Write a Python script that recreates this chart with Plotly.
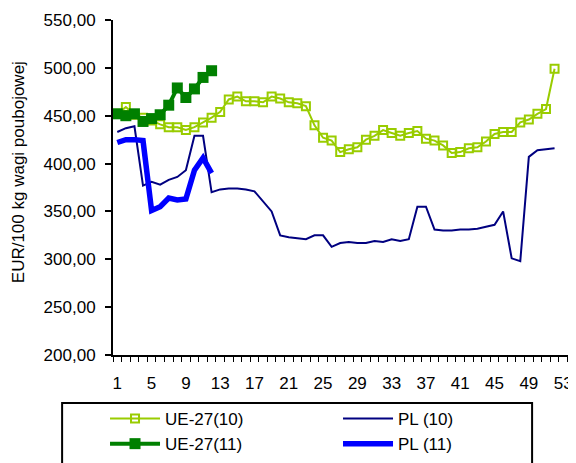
import plotly.graph_objects as go

weeks_10 = list(range(1, 53))
ue27_10 = [452, 459, 451, 448, 445, 441, 438, 438, 435, 438, 443, 448, 454, 467, 470, 465, 465, 464, 470, 468,
           464, 463, 460, 440, 427, 424, 412, 415, 417, 425, 429, 435, 432, 429, 432, 434, 426, 424, 419, 411,
           412, 416, 417, 423, 431, 433, 433, 443, 446, 452, 457, 499]
pl_10 = [433, 437, 439, 377, 381, 378, 383, 386, 393, 429, 429, 370, 373, 374, 374, 373, 371, 361, 350, 325,
         323, 322, 321, 325, 325, 313, 317, 318, 317, 317, 319, 318, 321, 319, 321, 355, 355, 331, 330, 330,
         331, 331, 332, 334, 336, 350, 301, 298, 407, 414, 415, 416]

weeks_11 = list(range(1, 13))
ue27_11 = [452, 450, 452, 444, 447, 451, 461, 479, 469, 478, 490, 497]
pl_11 = [422, 425, 425, 424, 351, 355, 364, 362, 363, 393, 406, 390]

x_labels = list(range(1, 54, 4))

FONT = "Liberation Sans, Arial, sans-serif"

# page body has an 8px margin; plot area targeted at window px x 113..577, y 20..355
PL, PT, PR, PB = 113, 20, 577, 355


def px_x(px):
    return (px - PL) / (PR - PL)


def px_y(py):
    return (PB - py) / (PB - PT)


fig = go.Figure()
fig.add_trace(go.Scatter(x=weeks_10, y=ue27_10, name="UE-27(10)", mode="lines+markers",
                         line=dict(color="#99CC00", width=2),
                         marker=dict(symbol="square-open", size=8, color="#99CC00", line=dict(width=2))))
fig.add_trace(go.Scatter(x=weeks_10, y=pl_10, name="PL (10)", mode="lines",
                         line=dict(color="#000080", width=2)))
fig.add_trace(go.Scatter(x=weeks_11, y=ue27_11, name="UE-27(11)", mode="lines+markers",
                         line=dict(color="#008000", width=4),
                         marker=dict(symbol="square", size=11, color="#008000")))
fig.add_trace(go.Scatter(x=weeks_11, y=pl_11, name="PL (11)", mode="lines",
                         line=dict(color="#0000FF", width=5.5)))

fig.update_layout(
    width=568, height=455,
    margin=dict(l=PL - 8, r=0, t=PT - 8, b=455 - (PB - 8), autoexpand=False),
    paper_bgcolor="white", plot_bgcolor="white",
    separators=", ",
    font=dict(family=FONT, size=17, color="black"),
    showlegend=True,
    legend=dict(orientation="h", x=px_x(105), xanchor="left",
                y=px_y(401), yanchor="top",
                entrywidth=168, entrywidthmode="pixels", itemwidth=50,
                font=dict(family=FONT, size=17, color="black"),
                bgcolor="rgba(0,0,0,0)", borderwidth=0),
    xaxis=dict(range=[0.5, 54.5], tickmode="array", tickvals=x_labels,
               ticktext=[str(v) for v in x_labels], ticks="", showgrid=False,
               showline=True, linecolor="black", linewidth=2, zeroline=False,
               ticklabelstandoff=12, automargin=False,
               tickfont=dict(family=FONT, size=17, color="black"),
               minor=dict(tickmode="linear", tick0=0.5, dtick=1, ticks="outside",
                          ticklen=5, tickcolor="black", tickwidth=1, showgrid=False)),
    yaxis=dict(range=[200, 550], tickmode="linear", tick0=200, dtick=50, tickformat=".2f",
               ticks="outside", ticklen=6, tickcolor="black", tickwidth=2, showgrid=False,
               showline=True, linecolor="black", linewidth=2, zeroline=False,
               ticklabelstandoff=6, automargin=False,
               tickfont=dict(family=FONT, size=17, color="black")),
    shapes=[dict(type="rect", xref="paper", yref="paper",
                 x0=px_x(62), x1=px_x(533),
                 y0=px_y(403), y1=px_y(480),
                 line=dict(color="black", width=2), fillcolor="rgba(0,0,0,0)")],
    annotations=[dict(text="EUR/100 kg wagi poubojowej", textangle=-90, showarrow=False,
                      xref="paper", yref="paper", x=px_x(18), y=px_y(172),
                      xanchor="center", yanchor="middle",
                      font=dict(family=FONT, size=17, color="black"))],
)

fig.write_html("out.html")
